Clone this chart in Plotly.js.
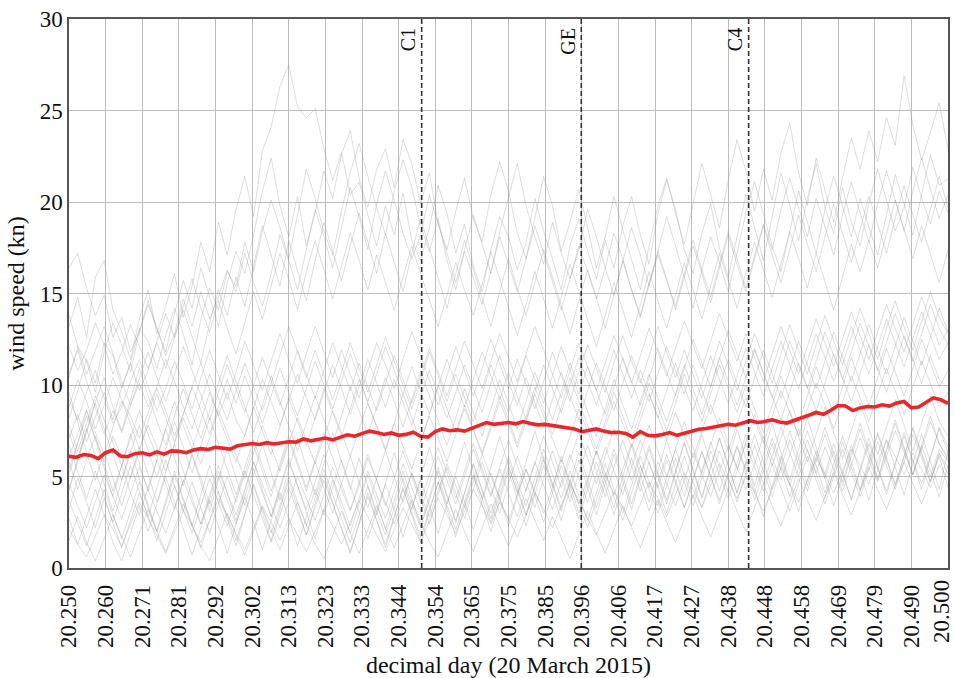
<!DOCTYPE html>
<html>
<head>
<meta charset="utf-8">
<script src="https://cdn.plot.ly/plotly-3.0.1.min.js"></script>
<style>html,body{margin:0;padding:0;background:#fff;}#chart{width:955px;height:678px;}</style>
</head>
<body>
<div id="chart"></div>
<script>
// Time window (decimal day, 20 March 2015)
const dayStart = 20.25;
const dayEnd = 20.5;

// x tick labels (every 15 minutes)
const tickLabels = ["20.250","20.260","20.271","20.281","20.292","20.302","20.313","20.323","20.333","20.344","20.354","20.365","20.375","20.385","20.396","20.406","20.417","20.427","20.438","20.448","20.458","20.469","20.479","20.490","20.500"];
const yTicks = [0, 5, 10, 15, 20, 25, 30];

// event markers
const eventNames = ["C1", "GE", "C4"];
const eventDays = [20.3503, 20.3957, 20.4433];

// ensemble members (wind speed, kn), sampled uniformly over the window
const memberH1 = [13.2,14.8,12.6,15.9,16.8,14.1,12.9,11.4,13.6,15.2,12.8,14.3,16.1,13.7,15.4,17.8,16.2,18.9,17.1,19.6,21.4,19.2,22.8,24.1,26.3,27.5,25.2,24.6,25.1,22.9,21.2,22.7,20.4,21.1,19.3,17.6,19.8,18.2,20.5,17.9,16.8,18.6,20.9,19.4,17.2,18.8,16.5,15.1,17.4,19.2,18.1,16.3,17.8,20.2,18.4,16.9,15.2,17.6,19.1,17.3,15.8,17.9,16.4,18.7,20.3,18.2,16.6,19.4,21.2,19.6,17.4,16.1,18.3,19.9,17.5,15.9,18.1,20.4,18.6,16.8,19.2,21.6,19.8,17.9,20.2,22.1,19.7,18.3,20.8,18.9,17.6,19.9,21.8,20.1,18.4,19.7,21.9,20.2,18.8,20.6,19.4];
const memberH2 = [10.4,12.1,11.3,9.6,11.8,13.4,12.2,10.7,12.9,14.6,13.1,11.8,13.9,15.7,14.2,16.4,14.8,13.2,15.6,17.3,16.1,18.2,20.6,22.4,19.8,18.1,20.3,17.6,19.4,21.7,20.2,22.6,23.9,21.3,19.7,21.8,22.9,20.8,23.4,22.1,19.9,21.6,18.8,17.4,19.5,21.3,19.1,17.8,20.4,22.2,20.6,18.3,16.9,19.2,21.4,19.8,17.3,18.9,20.7,18.6,16.4,18.1,20.3,18.5,16.8,15.2,17.6,19.8,21.3,19.4,17.7,19.9,22.1,20.4,18.6,21.2,23.4,21.7,19.5,21.8,20.1,22.7,24.3,21.6,19.8,22.4,20.6,18.9,21.3,23.5,21.8,23.9,22.2,24.6,23.1,26.9,24.2,22.3,23.8,25.4,22.9];
const memberH3 = [8.2,9.7,11.4,10.1,12.3,11.6,9.8,11.2,13.1,12.4,10.9,12.7,14.2,12.8,11.1,13.6,15.3,14.1,16.2,15.4,17.8,16.2,18.4,20.1,18.6,16.9,19.3,21.8,20.2,18.4,17.1,19.5,21.6,23.2,21.4,19.7,18.2,20.6,22.3,20.8,18.7,17.3,19.1,16.8,15.2,17.4,19.3,17.7,16.1,18.4,20.3,22.1,19.8,18.1,16.6,18.9,17.2,15.8,17.4,19.6,18.1,16.4,14.9,16.8,18.6,17.1,15.4,17.3,19.2,17.6,15.9,14.2,16.3,18.1,16.7,15.1,17.2,19.4,21.1,19.3,17.6,16.2,18.4,20.6,18.9,17.2,19.6,21.4,19.8,18.1,20.2,18.6,17.1,19.3,21.5,19.9,18.2,20.4,22.6,20.9,21.3];
const memberH4 = [16.4,17.2,15.3,13.8,14.9,12.6,13.7,11.8,12.9,14.4,13.1,11.6,12.8,14.7,13.2,15.1,13.6,14.8,16.3,15.1,17.2,15.6,14.3,16.1,18.2,16.8,15.2,17.4,19.6,18.1,16.4,18.6,20.8,19.2,17.4,19.9,21.7,20.1,18.3,16.9,18.2,20.4,18.8,17.1,15.6,17.3,15.9,14.4,16.2,18.1,16.6,15.1,16.9,18.7,17.2,15.6,14.1,15.8,17.6,16.2,14.7,16.4,18.3,16.9,15.2,13.8,15.6,17.1,15.7,14.3,16.1,17.9,16.3,14.8,16.6,18.4,16.9,15.3,17.1,18.8,17.4,19.6,21.3,19.7,18.1,20.2,18.6,17.1,19.3,21.1,19.4,17.8,19.9,21.7,20.1,18.4,20.6,22.4,20.7,19.1,20.4];
const memberH5 = [7.1,8.4,6.9,8.2,9.6,8.1,9.9,11.2,9.7,10.8,12.3,10.9,12.6,14.1,12.7,11.2,13.4,15.2,13.8,15.9,14.3,16.6,18.7,17.1,15.4,17.9,16.2,14.6,16.8,18.9,17.3,15.7,17.6,19.4,17.8,16.1,18.3,16.7,15.1,17.2,19.1,17.5,15.8,14.2,16.1,17.9,16.3,14.7,13.2,15.1,16.9,15.3,13.8,15.6,17.4,15.9,14.3,12.8,14.6,16.3,14.8,13.1,14.9,16.8,15.2,13.7,15.5,17.3,15.8,14.1,15.9,17.6,16.1,14.5,16.4,18.2,16.6,15.1,16.9,18.7,17.1,15.6,17.4,19.3,17.7,16.2,18.1,19.9,18.3,16.7,18.5,20.3,18.8,17.2,19.1,20.9,19.3,17.8,19.6,21.4,19.7];
const memberH6 = [12.1,10.8,11.9,13.4,12.2,10.6,11.8,13.3,12.1,10.9,12.4,13.9,12.6,14.3,15.8,14.2,12.9,14.6,13.1,11.7,13.4,15.1,13.6,15.4,17.2,15.8,14.1,16.2,17.9,16.3,14.7,16.5,18.3,16.8,15.2,17.1,15.6,14.1,15.9,17.6,16.1,14.6,13.2,14.9,16.7,15.2,13.8,15.5,17.3,15.8,14.2,12.7,14.4,16.2,14.7,13.1,14.8,16.6,15.1,13.6,12.1,13.8,15.6,14.1,12.6,14.4,16.2,14.6,13.1,14.9,16.7,15.2,13.6,15.4,17.2,15.7,14.2,16.1,17.8,16.3,14.8,16.6,18.4,16.9,15.3,17.2,15.6,14.1,15.9,17.7,16.2,17.9,16.4,18.2,20.1,18.5,16.9,18.7,17.2,15.6,17.4];
const memberM1 = [9.2,8.1,9.6,10.8,9.3,7.9,8.8,10.2,11.4,9.9,8.6,9.8,11.3,10.1,8.7,10.4,11.9,10.6,9.2,10.7,12.4,11.1,9.7,11.3,12.8,11.4,10.1,11.7,13.2,11.8,10.4,11.9,10.6,9.3,10.8,12.3,11.1,9.8,11.4,12.9,11.6,10.2,8.9,10.5,12.1,10.8,9.4,10.9,12.5,11.2,9.8,11.4,10.1,8.7,10.2,11.8,10.5,9.1,10.7,12.2,10.9,9.6,11.2,12.7,11.3,10.1,11.6,13.2,11.8,10.4,11.9,10.6,9.3,10.8,12.4,11.1,9.7,11.3,12.8,11.5,10.1,11.7,13.3,11.9,10.6,12.2,13.8,12.4,11.1,12.6,14.2,12.8,11.4,13.1,14.6,13.2,11.9,13.5,15.1,13.7,12.8];
const memberM2 = [6.1,7.3,8.6,7.4,6.2,7.7,9.1,8.3,7.1,8.5,9.8,8.6,7.2,8.4,9.9,11.2,9.7,8.3,9.6,8.1,7.2,8.7,10.3,9.1,7.8,9.2,10.6,9.3,8.1,9.6,11.1,9.8,8.4,9.9,11.4,10.1,8.8,10.3,9.1,7.8,9.3,10.8,9.5,8.2,9.6,11.1,9.8,8.5,10.1,11.6,10.2,8.9,10.4,9.1,7.7,9.2,10.7,9.4,8.1,9.7,11.2,9.9,8.6,10.1,11.6,10.3,9.1,10.6,12.1,10.8,9.5,11.1,9.8,8.4,9.9,11.4,10.1,8.8,10.4,11.9,10.6,9.3,10.8,12.4,11.1,9.8,11.3,12.9,11.5,10.2,11.7,13.3,11.9,10.6,12.1,13.7,12.4,11.1,12.6,14.2,12.9];
const memberM3 = [4.3,5.8,7.4,9.1,10.4,8.8,7.5,9.2,10.9,9.4,8.1,6.7,8.3,9.8,8.4,7.1,8.6,10.1,11.6,10.2,8.8,7.4,8.9,10.5,9.1,7.8,6.4,7.9,9.4,8.1,6.8,8.3,9.9,8.6,7.3,8.8,10.4,9.1,7.7,9.2,10.8,9.4,8.1,6.7,8.2,9.8,8.5,7.2,8.7,10.3,9.0,7.6,9.1,10.7,9.4,8.1,9.6,11.2,9.9,8.6,7.2,8.7,10.3,8.9,7.6,9.1,10.6,9.3,8.0,9.5,11.1,9.8,8.4,9.9,11.5,10.2,8.9,10.4,12.0,10.7,9.4,8.1,9.6,11.2,9.9,8.6,10.1,11.7,10.4,9.1,10.6,12.2,10.9,9.6,11.1,12.7,11.4,10.1,11.6,10.3,9.8];
const memberM4 = [10.6,11.9,10.2,8.7,7.3,8.6,7.4,8.9,10.1,8.8,9.9,11.4,10.2,8.8,7.6,9.1,10.6,9.3,8.1,9.7,11.2,9.9,8.6,10.1,11.7,13.2,11.8,10.4,11.9,10.6,9.2,10.7,12.3,10.9,9.6,11.1,12.6,11.3,10.0,8.7,10.2,11.8,10.5,9.1,10.6,9.3,8.0,9.5,11.1,9.8,8.5,10.0,11.6,10.3,9.0,10.5,12.1,10.8,9.5,11.0,9.7,8.4,9.9,11.5,10.2,8.9,10.4,12.0,10.7,9.4,10.9,12.5,11.2,9.9,11.4,13.0,11.7,10.4,11.9,10.6,9.3,10.8,12.4,11.1,9.8,11.3,12.9,11.6,10.3,11.8,13.4,12.1,10.8,12.3,13.9,12.6,11.3,12.8,14.4,13.1,12.2];
const memberM5 = [7.8,6.4,7.9,9.4,8.1,6.8,5.6,7.1,8.6,7.3,6.1,7.6,9.1,7.8,6.5,8.0,9.6,8.3,7.0,5.8,7.3,8.8,7.5,6.2,7.7,9.3,8.0,6.7,8.2,9.8,8.5,7.2,8.7,10.3,9.0,7.7,6.4,7.9,9.5,8.2,6.9,8.4,10.0,8.7,7.4,8.9,7.6,6.3,7.8,9.4,8.1,6.8,8.3,9.9,8.6,7.3,8.8,10.4,9.1,7.8,6.5,8.0,9.6,8.3,7.0,8.5,10.1,8.8,7.5,9.0,10.6,9.3,8.0,9.5,11.1,9.8,8.5,10.0,8.7,7.4,8.9,10.5,9.2,7.9,9.4,11.0,9.7,8.4,9.9,11.5,10.2,8.9,10.4,12.0,10.7,9.4,10.9,12.5,11.2,9.9,10.8];
const memberM6 = [5.4,6.9,8.3,7.1,5.8,7.2,6.1,4.9,6.4,7.8,6.6,5.3,6.8,8.2,7.0,5.7,7.1,8.6,7.4,6.1,4.9,6.3,7.8,6.6,5.3,6.8,8.2,7.0,5.7,7.1,8.6,7.4,6.1,7.6,9.0,7.8,6.5,7.9,6.7,5.4,6.9,8.3,7.1,5.8,7.3,8.7,7.5,6.2,7.6,9.1,7.9,6.6,8.0,9.5,8.3,7.0,5.8,7.2,8.7,7.5,6.2,7.7,9.1,7.9,6.6,8.1,9.5,8.3,7.0,8.5,7.3,6.0,7.5,8.9,7.7,6.4,7.9,9.3,8.1,6.8,8.3,9.7,8.5,7.2,8.7,10.1,8.9,7.6,9.1,10.5,9.3,8.0,9.5,10.9,9.7,8.4,9.9,11.3,10.1,8.8,9.6];
const memberM7 = [13.8,12.1,10.6,11.9,13.2,11.7,10.2,8.9,10.3,11.8,10.4,9.1,10.6,12.1,10.8,9.4,8.1,9.6,11.1,9.8,8.5,10.0,11.5,10.2,8.9,10.4,11.9,10.6,9.3,10.8,12.3,11.0,9.7,11.2,9.9,8.6,10.1,11.6,10.3,9.0,10.5,12.0,10.7,9.4,10.9,12.4,11.1,9.8,11.3,12.8,11.5,10.2,11.7,13.2,11.9,10.6,9.3,10.8,12.3,11.0,9.7,11.2,12.7,11.4,10.1,11.6,13.1,11.8,10.5,12.0,13.5,12.2,10.9,12.4,13.9,12.6,11.3,12.8,11.5,10.2,11.7,13.2,11.9,10.6,12.1,13.6,12.3,11.0,12.5,14.0,12.7,11.4,12.9,14.4,13.1,11.8,13.3,14.8,13.5,12.2,13.0];
const memberM8 = [8.8,10.3,9.1,7.6,8.9,10.4,9.2,7.8,6.5,8.0,9.5,8.2,6.9,8.4,9.9,8.6,7.3,8.8,10.3,9.0,10.5,9.2,7.9,9.4,10.9,9.6,8.3,9.8,11.3,10.0,8.7,10.2,11.7,10.4,9.1,10.6,12.1,10.8,9.5,11.0,9.7,8.4,9.9,11.4,10.1,8.8,10.3,11.8,10.5,9.2,10.7,9.4,8.1,9.6,11.1,9.8,8.5,10.0,11.5,10.2,8.9,10.4,11.9,10.6,9.3,10.8,9.5,8.2,9.7,11.2,9.9,8.6,10.1,11.6,10.3,9.0,10.5,12.0,10.7,9.4,10.9,12.4,11.1,9.8,11.3,12.8,11.5,10.2,11.7,13.2,11.9,10.6,12.1,13.6,12.3,11.0,12.5,14.0,12.7,11.4,12.3];
const memberL1 = [4.6,3.4,2.2,3.6,5.1,3.9,2.7,4.1,5.5,4.3,3.1,1.9,3.3,4.8,3.6,2.4,3.8,5.3,4.1,2.9,4.3,5.8,4.6,3.4,2.2,3.6,5.0,3.8,2.6,4.0,5.5,4.3,3.1,4.5,6.0,4.8,3.6,2.4,3.8,5.2,4.0,2.8,4.2,5.7,4.5,3.3,4.7,6.2,5.0,3.8,2.6,4.0,5.4,4.2,3.0,4.4,5.9,4.7,3.5,4.9,6.4,5.2,4.0,5.4,6.8,5.6,4.4,5.8,4.6,3.4,4.8,6.3,5.1,3.9,5.3,6.7,5.5,4.3,5.7,7.2,6.0,4.8,6.2,7.6,6.4,5.2,6.6,5.4,4.2,5.6,7.1,5.9,4.7,6.1,7.5,6.3,5.1,6.5,8.0,6.8,5.9];
const memberL2 = [2.1,1.3,0.6,1.7,2.9,2.1,1.2,2.4,3.6,2.7,1.8,0.8,1.9,3.1,2.3,1.4,2.6,3.8,2.9,1.9,1.0,2.2,3.4,2.5,1.5,2.7,1.8,0.9,2.0,3.2,2.3,1.3,2.5,3.7,2.8,1.8,0.9,2.1,3.3,2.4,1.4,2.6,3.8,2.9,1.9,3.1,4.3,3.4,2.4,3.6,2.7,1.7,2.9,4.1,3.2,2.2,3.4,4.6,3.7,2.7,1.8,3.0,4.2,3.3,2.3,3.5,4.7,3.8,2.8,4.0,5.2,4.3,3.3,4.5,5.7,4.8,3.8,5.0,4.1,3.1,4.3,5.5,4.6,3.6,4.8,6.0,5.1,4.1,5.3,6.5,5.6,4.6,5.8,7.0,6.1,5.1,6.3,5.4,4.4,5.6,4.9];
const memberL3 = [5.8,4.3,5.9,7.2,5.7,4.2,5.6,4.1,2.9,4.4,5.9,4.6,3.2,4.7,6.2,4.9,3.5,5.0,3.7,2.4,3.9,5.4,4.1,2.8,4.3,5.8,4.5,3.2,4.7,6.2,4.9,3.6,2.3,3.8,5.3,4.0,2.7,4.2,5.7,4.4,3.1,4.6,6.1,4.8,3.5,5.0,6.5,5.2,3.9,5.4,4.1,2.8,4.3,5.8,4.5,3.2,4.7,6.2,4.9,3.6,5.1,6.6,5.3,4.0,5.5,7.0,5.7,4.4,5.9,4.6,3.3,4.8,6.3,5.0,3.7,5.2,6.7,5.4,4.1,5.6,7.1,5.8,4.5,6.0,7.5,6.2,4.9,6.4,5.1,3.8,5.3,6.8,5.5,4.2,5.7,7.2,5.9,4.6,6.1,7.6,6.3];
const memberL4 = [3.2,4.9,3.6,2.2,3.8,2.4,1.1,2.6,4.1,2.8,1.5,3.0,4.5,3.2,1.9,3.4,4.9,3.6,2.3,3.8,5.3,4.0,2.7,1.4,2.9,4.4,3.1,1.8,3.3,4.8,3.5,2.2,0.9,2.4,3.9,2.6,1.3,2.8,4.3,3.0,1.7,3.2,4.7,3.4,2.1,3.6,5.1,3.8,2.5,4.0,5.5,4.2,2.9,4.4,5.9,4.6,3.3,4.8,3.5,2.2,3.7,5.2,3.9,2.6,4.1,5.6,4.3,3.0,4.5,6.0,4.7,3.4,4.9,6.4,5.1,3.8,5.3,6.8,5.5,4.2,5.7,4.4,3.1,4.6,6.1,4.8,3.5,5.0,6.5,5.2,3.9,5.4,6.9,5.6,4.3,5.8,7.3,6.0,4.7,6.2,5.5];
const memberL5 = [6.7,5.2,3.8,5.3,3.9,2.5,4.1,5.6,4.2,2.8,4.4,5.9,4.5,3.1,4.7,3.3,1.9,3.5,5.0,3.6,5.2,6.7,5.3,3.9,5.5,7.0,5.6,4.2,5.8,4.4,3.0,4.6,6.1,4.7,3.3,4.9,6.4,5.0,3.6,5.2,3.8,2.4,4.0,5.5,4.1,2.7,4.3,5.8,4.4,3.0,4.6,6.1,4.7,3.3,4.9,6.4,5.0,3.6,5.2,6.7,5.3,3.9,5.5,7.0,5.6,4.2,5.8,4.4,3.0,4.6,6.1,4.7,3.3,4.9,6.4,5.0,3.6,5.2,6.7,5.3,3.9,5.5,7.0,5.6,4.2,5.8,7.3,5.9,4.5,6.1,7.6,6.2,4.8,6.4,7.9,6.5,5.1,6.7,5.3,3.9,5.6];
const memberL6 = [1.5,2.8,1.4,0.4,1.6,2.9,1.7,0.6,1.9,3.2,2.0,0.9,2.2,3.5,2.3,1.2,0.4,1.7,3.0,1.8,0.7,2.0,3.3,2.1,1.0,2.3,3.6,2.4,1.3,0.5,1.8,3.1,1.9,0.8,2.1,3.4,2.2,1.1,2.4,3.7,2.5,1.4,0.6,1.9,3.2,2.0,0.9,2.2,3.5,2.3,1.2,2.5,3.8,2.6,1.5,2.8,1.6,0.5,1.8,3.1,1.9,0.8,2.1,3.4,2.2,1.1,2.4,3.7,2.5,1.4,2.7,4.0,2.8,1.7,3.0,4.3,3.1,2.0,3.3,4.6,3.4,2.3,3.6,4.9,3.7,2.6,3.9,5.2,4.0,2.9,4.2,5.5,4.3,3.2,4.5,5.8,4.6,3.5,4.8,6.1,4.4];
const memberL7 = [9.6,7.9,6.3,4.8,6.4,4.9,3.4,5.0,6.6,5.1,3.6,5.2,6.8,5.3,3.8,2.4,4.0,5.6,4.1,2.6,4.2,5.8,4.3,2.8,4.4,6.0,4.5,3.0,1.6,3.2,4.8,3.3,1.9,3.5,5.1,3.6,2.1,3.7,5.3,3.8,2.3,3.9,5.5,4.0,2.5,4.1,5.7,4.2,2.7,4.3,5.9,4.4,2.9,4.5,6.1,4.6,3.1,4.7,6.3,4.8,3.3,4.9,6.5,5.0,3.5,5.1,6.7,5.2,3.7,5.3,6.9,5.4,3.9,5.5,7.1,5.6,4.1,5.7,7.3,5.8,4.3,5.9,7.5,6.0,4.5,6.1,7.7,6.2,4.7,6.3,7.9,6.4,4.9,6.5,8.1,6.6,5.1,6.7,8.3,6.8,6.1];
const memberL8 = [4.2,6.0,7.6,6.1,4.6,3.1,4.8,6.4,4.9,3.4,2.0,3.7,5.3,3.8,2.3,4.0,5.6,4.1,2.6,1.2,2.9,4.5,3.0,1.5,3.2,4.8,3.3,1.8,3.5,5.1,3.6,2.1,0.8,2.5,4.1,2.6,1.1,2.8,4.4,2.9,1.4,3.1,4.7,3.2,1.7,3.4,5.0,3.5,2.0,3.7,5.3,3.8,2.3,4.0,5.6,4.1,2.6,4.3,5.9,4.4,2.9,4.6,6.2,4.7,3.2,4.9,6.5,5.0,3.5,5.2,6.8,5.3,3.8,5.5,7.1,5.6,4.1,5.8,4.3,2.8,4.5,6.1,4.6,3.1,4.8,6.4,4.9,3.4,5.1,6.7,5.2,3.7,5.4,7.0,5.5,4.0,5.7,7.3,5.8,4.3,6.4];
const memberL9 = [2.7,1.3,2.8,4.3,2.9,1.4,0.4,1.9,3.4,2.0,3.5,5.0,3.6,2.1,0.7,2.2,3.7,2.3,0.8,2.4,3.9,2.5,1.0,2.6,4.1,2.7,1.2,2.8,4.3,2.9,4.4,5.9,4.5,3.0,1.6,3.1,4.6,3.2,1.7,3.3,4.8,3.4,1.9,3.5,5.0,3.6,2.1,3.7,5.2,3.8,2.3,3.9,5.4,4.0,2.5,4.1,5.6,4.2,2.7,4.3,5.8,4.4,2.9,4.5,6.0,4.6,3.1,4.7,6.2,4.8,3.3,4.9,6.4,5.0,3.5,5.1,6.6,5.2,3.7,5.3,6.8,5.4,3.9,5.5,7.0,5.6,4.1,5.7,7.2,5.8,4.3,5.9,7.4,6.0,4.5,6.1,7.6,6.2,4.7,6.3,5.1];
const memberL10 = [7.4,6.0,7.5,9.0,7.6,6.2,4.8,6.3,7.8,6.4,5.0,6.5,8.0,6.6,5.2,6.7,8.2,6.8,5.4,4.0,5.5,7.0,5.6,4.2,5.7,7.2,5.8,4.4,5.9,7.4,6.0,4.6,3.2,4.7,6.2,4.8,3.4,4.9,6.4,5.0,3.6,5.1,6.6,5.2,3.8,5.3,6.8,5.4,4.0,5.5,7.0,5.6,4.2,5.7,7.2,5.8,4.4,5.9,7.4,6.0,4.6,6.1,7.6,6.2,4.8,6.3,7.8,6.4,5.0,6.5,8.0,6.6,5.2,6.7,8.2,6.8,5.4,6.9,8.4,7.0,5.6,7.1,8.6,7.2,5.8,7.3,8.8,7.4,6.0,7.5,9.0,7.6,6.2,7.7,9.2,7.8,6.4,7.9,9.4,8.0,7.2];
const memberL11 = [3.7,2.4,1.2,2.7,4.3,2.9,1.6,3.1,4.7,3.3,2.0,3.5,5.1,3.7,2.4,1.1,2.6,4.2,2.8,1.5,3.0,4.6,3.2,1.9,3.4,5.0,3.6,2.3,3.8,5.4,4.0,2.7,1.4,2.9,4.5,3.1,1.8,3.3,4.9,3.5,2.2,3.7,5.3,3.9,2.6,4.1,5.7,4.3,3.0,4.5,6.1,4.7,3.4,4.9,6.5,5.1,3.8,5.3,3.9,2.6,4.1,5.7,4.3,3.0,4.5,6.1,4.7,3.4,4.9,6.5,5.1,3.8,5.3,6.9,5.5,4.2,5.7,7.3,5.9,4.6,6.1,7.7,6.3,5.0,6.5,5.1,3.8,5.3,6.9,5.5,4.2,5.7,7.3,5.9,4.6,6.1,7.7,6.3,5.0,6.5,5.8];
const memberL12 = [5.1,6.9,8.6,7.0,5.4,3.9,5.6,7.3,5.7,4.2,5.9,7.6,6.0,4.5,6.2,4.6,3.1,4.8,6.5,4.9,3.4,5.1,6.8,5.2,3.7,5.4,7.1,5.5,4.0,5.7,7.4,5.8,4.3,6.0,4.4,2.9,4.6,6.3,4.7,3.2,4.9,6.6,5.0,3.5,5.2,6.9,5.3,3.8,5.5,7.2,5.6,4.1,5.8,7.5,5.9,4.4,6.1,4.5,3.0,4.7,6.4,4.8,3.3,5.0,6.7,5.1,3.6,5.3,7.0,5.4,3.9,5.6,7.3,5.7,4.2,5.9,7.6,6.0,4.5,6.2,7.9,6.3,4.8,6.5,8.2,6.6,5.1,6.8,5.2,3.7,5.4,7.1,5.5,4.0,5.7,7.4,5.8,4.3,6.0,7.7,6.6];

// ensemble mean (kn)
const ensembleMean = [6.10,6.05,6.20,6.15,5.98,6.30,6.45,6.12,6.08,6.25,
6.30,6.18,6.35,6.22,6.40,6.38,6.30,6.45,6.52,6.48,
6.60,6.55,6.50,6.68,6.72,6.80,6.75,6.85,6.78,6.82,
6.90,6.88,7.05,6.95,7.02,7.10,7.00,7.15,7.28,7.20,
7.35,7.48,7.40,7.30,7.38,7.25,7.30,7.42,7.20,7.15,
7.45,7.60,7.50,7.55,7.48,7.65,7.80,7.95,7.85,7.90,
7.95,7.88,8.00,7.90,7.82,7.85,7.78,7.72,7.65,7.60,
7.45,7.52,7.60,7.48,7.40,7.42,7.35,7.15,7.45,7.25,
7.22,7.30,7.40,7.25,7.35,7.50,7.58,7.62,7.70,7.78,
7.85,7.80,7.90,8.05,7.95,8.00,8.10,7.98,7.92,8.05,
8.20,8.35,8.50,8.40,8.62,8.88,8.85,8.60,8.75,8.82,
8.80,8.92,8.85,9.02,9.10,8.75,8.80,9.05,9.30,9.20,
9.00];

const members = [memberH1,memberH2,memberH3,memberH4,memberH5,memberH6,memberM1,memberM2,memberM3,memberM4,memberM5,memberM6,memberM7,memberM8,memberL1,memberL2,memberL3,memberL4,memberL5,memberL6,memberL7,memberL8,memberL9,memberL10,memberL11,memberL12];

function sampleDays(arr) {
  const n = arr.length;
  return arr.map((_, i) => (i === n - 1) ? dayEnd : dayStart + i * (dayEnd - dayStart) / (n - 1));
}

const serif = "Times New Roman, Liberation Serif, DejaVu Serif, serif";
const traces = [];
members.forEach(m => {
  traces.push({
    x: sampleDays(m), y: m, type: 'scatter', mode: 'lines',
    line: {color: 'rgba(140,140,140,0.36)', width: 0.8},
    hoverinfo: 'skip', showlegend: false
  });
});
traces.push({
  x: sampleDays(ensembleMean), y: ensembleMean, type: 'scatter', mode: 'lines',
  line: {color: '#e8262b', width: 3.6}, showlegend: false
});

// 15-minute tick positions; the last label is drawn as an annotation so it stays inside the page
const tickPos = sampleDays(tickLabels);
const lastIdx = tickLabels.length - 1;
const axisText = tickLabels.map((t, i) => i === lastIdx ? '' : t);

const shapes = eventDays.map(d => ({
  type: 'line', xref: 'x', yref: 'paper', x0: d, x1: d, y0: 0, y1: 1,
  line: {color: '#333', width: 1.6, dash: '5px,3px'}
}));
const annotations = eventNames.map((n, i) => ({
  text: n, x: eventDays[i], y: 1, xref: 'x', yref: 'paper',
  xanchor: 'right', yanchor: 'top', textangle: -90, showarrow: false,
  xshift: -1, yshift: -7,
  font: {family: serif, size: 20, color: '#111'}
}));
annotations.push({
  text: tickLabels[lastIdx], x: tickPos[lastIdx], y: 0, xref: 'x', yref: 'paper',
  xanchor: 'right', yanchor: 'top', textangle: -90, showarrow: false,
  xshift: 7, yshift: -11, borderpad: 0,
  font: {family: serif, size: 23, color: '#111'}
});

const layout = {
  width: 955, height: 678,
  margin: {l: 69, r: 7, t: 19, b: 110},
  paper_bgcolor: '#fff', plot_bgcolor: '#fff',
  font: {family: serif, color: '#111'},
  xaxis: {
    range: [dayStart, dayEnd], tickvals: tickPos, ticktext: axisText,
    tickangle: -90, tickfont: {family: serif, size: 23, color: '#111'},
    ticklabelstandoff: 6,
    showgrid: true, gridcolor: '#bdbdbd', gridwidth: 1,
    showline: true, mirror: true, linecolor: '#555', linewidth: 1.6,
    ticks: '', zeroline: false, automargin: false,
    title: {text: 'decimal day (20 March 2015)', font: {family: serif, size: 24, color: '#111'}, standoff: 9}
  },
  yaxis: {
    range: [0, 30], tickvals: yTicks,
    tickfont: {family: serif, size: 23, color: '#111'},
    showgrid: true, gridcolor: '#bdbdbd', gridwidth: 1,
    showline: true, mirror: true, linecolor: '#555', linewidth: 1.6,
    ticks: '', zeroline: false, automargin: false,
    title: {text: 'wind speed (kn)', font: {family: serif, size: 24, color: '#111'}, standoff: 8}
  },
  shapes: shapes,
  annotations: annotations
};

Plotly.newPlot('chart', traces, layout, {displayModeBar: false, staticPlot: true});
</script>
</body>
</html>
